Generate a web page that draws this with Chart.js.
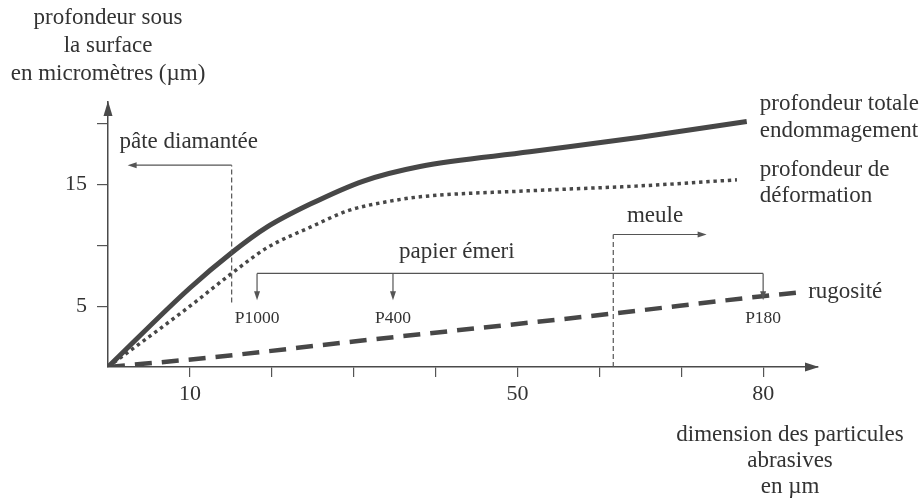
<!DOCTYPE html>
<html>
<head>
<meta charset="utf-8">
<script src="https://cdn.jsdelivr.net/npm/chart.js@4/dist/chart.umd.min.js"></script>
<style>
  html, body { margin: 0; padding: 0; background: #fff; }
  #wrap { width: 924px; height: 499px; }
</style>
</head>
<body>
<div id="wrap"><canvas id="chart" width="924" height="499"></canvas></div>
<script>
// Values (x: particle size in µm, y: depth in µm)
const totalX = [0, 10, 15.1, 19.4, 24.7, 31.2, 38.1, 51.5, 65, 78];
const totalY = [0, 6.5, 9.4, 11.5, 13.4, 15.3, 16.5, 17.7, 18.9, 20.2];

const deformX = [0, 10, 15.1, 19.4, 24.7, 29.5, 34.1, 38.1, 51.5, 65, 76.8];
const deformY = [0, 5.0, 7.7, 9.8, 11.5, 12.9, 13.6, 14.0, 14.5, 14.9, 15.4];

const roughX = [0, 12.8, 30, 61.7, 79.6, 84];
const roughY = [0, 0.8, 2.1, 4.4, 5.8, 6.1];

// ticks
const xLabeled = [10, 50, 80];
const yLabeled = [5, 15];

// abrasive ranges
const paperGrades = ['P1000', 'P400', 'P180'];
const paperGradeX = [18.2, 34.8, 80];
const pasteLimit = 15.1;
const wheelLimit = 61.7;

const INK = '#333';
const LINE = '#474747';
const FONT = '"Liberation Serif", "Times New Roman", serif';

function pts(xs, ys) {
    return xs.map((x, i) => ({ x: x, y: ys[i] }));
}

function arrowHead(ctx, x, y, dir, len, half) {
    // dir: 'left' | 'right' | 'up' | 'down', (x, y) is the tip
    ctx.beginPath();
    ctx.moveTo(x, y);
    if (dir === 'left') { ctx.lineTo(x + len, y - half); ctx.lineTo(x + len, y + half); }
    if (dir === 'right') { ctx.lineTo(x - len, y - half); ctx.lineTo(x - len, y + half); }
    if (dir === 'up') { ctx.lineTo(x - half, y + len); ctx.lineTo(x + half, y + len); }
    if (dir === 'down') { ctx.lineTo(x - half, y - len); ctx.lineTo(x + half, y - len); }
    ctx.closePath();
    ctx.fill();
}

const decorations = {
    id: 'decorations',
    afterDraw(chart) {
        const { ctx, chartArea: a, scales: { x, y } } = chart;
        const px = v => x.getPixelForValue(v);
        const py = v => y.getPixelForValue(v);
        ctx.save();

        // axis arrows
        ctx.fillStyle = '#4a4a4a';
        arrowHead(ctx, a.left, a.top - 1, 'up', 15, 4.5);
        arrowHead(ctx, a.right + 1, a.bottom, 'right', 14, 4.5);

        ctx.strokeStyle = '#555';
        ctx.fillStyle = '#555';
        ctx.lineWidth = 1.2;

        // pâte diamantée
        ctx.setLineDash([5, 3]);
        ctx.beginPath();
        ctx.moveTo(px(pasteLimit), py(5.3));
        ctx.lineTo(px(pasteLimit), py(16.6));
        ctx.stroke();
        ctx.setLineDash([]);
        ctx.beginPath();
        ctx.moveTo(px(pasteLimit), py(16.6));
        ctx.lineTo(px(3.2), py(16.6));
        ctx.stroke();
        arrowHead(ctx, px(2.4), py(16.6), 'left', 9, 3);

        // meule
        ctx.setLineDash([5, 3]);
        ctx.beginPath();
        ctx.moveTo(px(wheelLimit), py(0));
        ctx.lineTo(px(wheelLimit), py(10.9));
        ctx.stroke();
        ctx.setLineDash([]);
        ctx.beginPath();
        ctx.moveTo(px(wheelLimit), py(10.9));
        ctx.lineTo(px(72.2), py(10.9));
        ctx.stroke();
        arrowHead(ctx, px(73.1), py(10.9), 'right', 9, 3);

        // papier émeri bracket
        const bracketY = 7.7;
        ctx.beginPath();
        ctx.moveTo(px(paperGradeX[0]), py(bracketY));
        ctx.lineTo(px(paperGradeX[paperGradeX.length - 1]), py(bracketY));
        ctx.stroke();
        paperGradeX.forEach(g => {
            ctx.beginPath();
            ctx.moveTo(px(g), py(bracketY));
            ctx.lineTo(px(g), py(5.5) - 8);
            ctx.stroke();
            arrowHead(ctx, px(g), py(5.5), 'down', 9, 3);
        });

        // texts
        ctx.fillStyle = INK;
        ctx.textBaseline = 'middle';
        ctx.font = '23px ' + FONT;
        ctx.textAlign = 'left';
        ctx.fillText('pâte diamantée', px(1.4), py(18.5));
        ctx.fillText('profondeur totale', px(79.6), py(21.6));
        ctx.fillText('endommagement', px(79.6), py(19.4));
        ctx.fillText('profondeur de', px(79.6), py(16.2));
        ctx.fillText('déformation', px(79.6), py(14.1));
        ctx.fillText('rugosité', px(85.5), py(6.2));
        ctx.textAlign = 'center';
        ctx.fillText('papier émeri', px(42.6), py(9.5));
        ctx.fillText('meule', px(66.8), py(12.4));

        ctx.font = '17.5px ' + FONT;
        paperGrades.forEach((g, i) => ctx.fillText(g, px(paperGradeX[i]), py(4.0)));

        // axis titles
        ctx.font = '23px ' + FONT;
        ['profondeur sous', 'la surface', 'en micromètres (µm)'].forEach((t, i) => {
            ctx.fillText(t, a.left, 18 + i * 28);
        });
        ['dimension des particules', 'abrasives', 'en µm'].forEach((t, i) => {
            ctx.fillText(t, 790, a.bottom + 68 + i * 26);
        });

        ctx.restore();
    }
};

new Chart(document.getElementById('chart'), {
    type: 'line',
    data: {
        datasets: [
            {
                label: 'profondeur totale endommagement',
                data: pts(totalX, totalY),
                borderColor: LINE,
                borderWidth: 5,
                cubicInterpolationMode: 'monotone',
                pointRadius: 0
            },
            {
                label: 'profondeur de déformation',
                data: pts(deformX, deformY),
                borderColor: LINE,
                borderWidth: 3.5,
                borderDash: [3.4, 3.8],
                borderCapStyle: 'butt',
                cubicInterpolationMode: 'monotone',
                pointRadius: 0
            },
            {
                label: 'rugosité',
                data: pts(roughX, roughY),
                borderColor: LINE,
                borderWidth: 4.5,
                borderDash: [17, 10],
                borderCapStyle: 'butt',
                cubicInterpolationMode: 'monotone',
                pointRadius: 0
            }
        ]
    },
    options: {
        responsive: false,
        animation: false,
        devicePixelRatio: 1,
        layout: { padding: { top: 102, right: 106, left: 0, bottom: 0 } },
        plugins: { legend: { display: false }, tooltip: { enabled: false } },
        scales: {
            x: {
                type: 'linear',
                min: 0,
                max: 86.7,
                afterFit: s => { s.height = 132; },
                border: { display: true, color: '#4a4a4a', width: 1.5 },
                grid: {
                    drawOnChartArea: false,
                    drawTicks: true,
                    tickLength: 10,
                    lineWidth: 1.2,
                    color: c => (c.tick && c.tick.value === 0) ? 'rgba(0,0,0,0)' : '#555'
                },
                ticks: {
                    stepSize: 10,
                    includeBounds: false,
                    autoSkip: false,
                    maxRotation: 0,
                    padding: 4,
                    color: INK,
                    font: { family: FONT, size: 22 },
                    callback: v => xLabeled.includes(v) ? String(v) : ''
                }
            },
            y: {
                min: 0,
                max: 21.8,
                afterFit: s => { s.width = 108; },
                border: { display: true, color: '#4a4a4a', width: 1.5 },
                grid: {
                    drawOnChartArea: false,
                    drawTicks: true,
                    tickLength: 11,
                    lineWidth: 1.2,
                    color: c => (c.tick && c.tick.value === 0) ? 'rgba(0,0,0,0)' : '#555'
                },
                ticks: {
                    stepSize: 5,
                    includeBounds: false,
                    autoSkip: false,
                    padding: 10,
                    color: INK,
                    font: { family: FONT, size: 22 },
                    callback: v => yLabeled.includes(v) ? String(v) : ''
                }
            }
        }
    },
    plugins: [decorations]
});
</script>
</body>
</html>
